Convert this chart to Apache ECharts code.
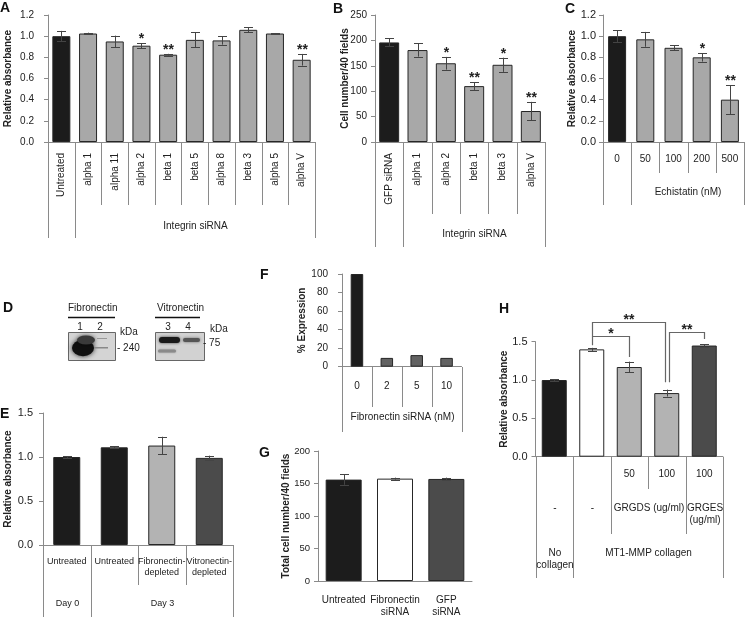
<!DOCTYPE html>
<html><head><meta charset="utf-8">
<script src="https://cdn.jsdelivr.net/npm/echarts/dist/echarts.min.js"></script>
<style>html,body{margin:0;padding:0;background:#fff}#c{width:745px;height:617px}</style>
</head><body><div id="c"></div><script>
// ---------------- DATA ----------------
const A_categories = ['Untreated','alpha 1','alpha 11','alpha 2','beta 1','beta 5','alpha 8','beta 3','alpha 5','alpha V'];
const A_values = [1.00, 1.025, 0.95, 0.91, 0.825, 0.965, 0.96, 1.06, 1.025, 0.777];
const A_errors = [0.05, 0.008, 0.055, 0.025, 0.008, 0.07, 0.04, 0.025, 0.005, 0.055];
const A_marks  = ['','','','*','**','','','','','**'];
const A_groups = [['', 0, 1], ['Integrin siRNA', 1, 10]];
const A_ticks  = [0, 0.2, 0.4, 0.6, 0.8, 1.0, 1.2];

const B_categories = ['GFP siRNA','alpha 1','alpha 2','beta 1','beta 3','alpha V'];
const B_values = [196, 181, 155, 110, 152, 61];
const B_errors = [8, 13, 12.5, 7.5, 14, 18];
const B_marks  = ['','','*','**','*','**'];
const B_groups = [['', 0, 1], ['Integrin siRNA', 1, 6]];
const B_ticks  = [0, 50, 100, 150, 200, 250];

const C_categories = ['0','50','100','200','500'];
const C_values = [1.00, 0.97, 0.89, 0.80, 0.40];
const C_errors = [0.055, 0.07, 0.022, 0.04, 0.135];
const C_marks  = ['','','','*','**'];
const C_groups = [['', 0, 1], ['Echistatin (nM)', 1, 5]];
const C_ticks  = [0, 0.2, 0.4, 0.6, 0.8, 1.0, 1.2];

const E_categories = ['Untreated','Untreated','Fibronectin-\ndepleted','Vitronectin-\ndepleted'];
const E_values = [1.00, 1.11, 1.13, 0.99];
const E_errors = [0.01, 0.01, 0.10, 0.025];
const E_groups = [['Day 0', 0, 1], ['Day 3', 1, 4]];
const E_ticks  = [0, 0.5, 1.0, 1.5];

const F_categories = ['0','2','5','10'];
const F_values = [100, 9.5, 12.5, 9.5];
const F_groups = [['Fibronectin siRNA (nM)', 0, 4]];
const F_ticks  = [0, 20, 40, 60, 80, 100];

const G_categories = ['Untreated','Fibronectin\nsiRNA','GFP\nsiRNA'];
const G_values = [156, 157.5, 157];
const G_errors = [8, 1.5, 2];
const G_ticks  = [0, 50, 100, 150, 200];

const H_categories = ['','','50','100','100'];
const H_values = [1.00, 1.40, 1.17, 0.83, 1.45];
const H_errors = [0.012, 0.02, 0.07, 0.045, 0.015];
const H_groups1 = [['-', 0, 1], ['-', 1, 2], ['GRGDS (ug/ml)', 2, 4], ['GRGES\n(ug/ml)', 4, 5]];
const H_groups2 = [['No\ncollagen', 0, 1], ['MT1-MMP collagen', 1, 5]];
const H_ticks  = [0, 0.5, 1.0, 1.5];
const H_sigFrom = [1, 1, 3];
const H_sigTo   = [2, 3, 4];
const H_sigMark = ['*', '**', '**'];

// ---------------- STYLE / LAYOUT ----------------
const FONT = "'Liberation Sans', Arial, Helvetica, sans-serif";
const AX = '#8a8a8a', TXT = '#222', ERR = '#444';
const BLACK = '#1c1c1c', GRAY = '#a8a8a8', LIGHT = '#b3b3b3', DARK = '#4b4b4b', MID = '#626262', WHITE = '#ffffff';
// bracket geometry (value-space heights) for panel H
const SIG_LAYOUT = [
  {top: 1.57, left: 1.455, right: 1.30, dxL: 0, dxR: 0},
  {top: 1.755, left: 1.57, right: 0.97, dxL: 0, dxR: -2},
  {top: 1.63, left: 0.97, right: 1.535, dxL: 2, dxR: 0}
];

const chart = echarts.init(document.getElementById('c'), null, {renderer: 'canvas'});

function grid(l, t, w, h) { return {left: l, top: t, width: w, height: h, containLabel: false, outerBoundsMode: 'none'}; }
function yAx(gi, ticks, dec, name, nameGap, margin, fs) {
  return {type: 'value', gridIndex: gi, min: ticks[0], max: ticks[ticks.length - 1], interval: ticks[1] - ticks[0],
    name: name, nameLocation: 'middle', nameGap: nameGap, nameRotate: 90, nameMoveOverlap: false,
    nameTextStyle: {fontFamily: FONT, fontWeight: 'bold', fontSize: 10, color: TXT},
    axisLine: {show: true, lineStyle: {color: AX, width: 1}},
    axisTick: {show: true, length: 4, inside: false, lineStyle: {color: AX}},
    splitLine: {show: false},
    axisLabel: {margin: margin, fontFamily: FONT, fontSize: fs, color: TXT, formatter: v => v.toFixed(dec)}};
}
function xAx(gi, labels, margin, rotate, fs, lh) {
  return {type: 'category', gridIndex: gi, data: labels.map((_, i) => 'k' + i),
    axisLine: {show: true, lineStyle: {color: AX, width: 1}}, axisTick: {show: false}, splitLine: {show: false},
    axisLabel: {interval: 0, rotate: rotate, margin: margin, hideOverlap: false, fontFamily: FONT, fontSize: fs, color: TXT, lineHeight: lh,
      formatter: (v, i) => labels[i]}};
}
function bars(gi, values, colorFn, bw) {
  return {type: 'bar', xAxisIndex: gi, yAxisIndex: gi, barWidth: bw, silent: true,
    itemStyle: {borderColor: '#262626', borderWidth: 1},
    data: values.map((v, i) => ({value: v, itemStyle: {color: colorFn(i)}}))};
}
function errs(gi, values, errors, marks) {
  return {type: 'custom', xAxisIndex: gi, yAxisIndex: gi, z: 5, clip: false, silent: true,
    data: values.map((v, i) => [i, v, errors[i]]),
    renderItem: function (params, api) {
      const i = api.value(0), v = api.value(1), e = api.value(2);
      const top = api.coord([i, v + e]), bot = api.coord([i, v - e]);
      const x = Math.round(top[0]) + 0.5, w = 4.5;
      const st = {stroke: ERR, lineWidth: 1};
      const ch = [
        {type: 'line', shape: {x1: x, y1: top[1], x2: x, y2: bot[1]}, style: st},
        {type: 'line', shape: {x1: x - w, y1: Math.round(top[1]) + 0.5, x2: x + w, y2: Math.round(top[1]) + 0.5}, style: st},
        {type: 'line', shape: {x1: x - w, y1: Math.round(bot[1]) + 0.5, x2: x + w, y2: Math.round(bot[1]) + 0.5}, style: st}
      ];
      const m = marks && marks[params.dataIndex];
      if (m) ch.push({type: 'text', style: {text: m, x: x, y: top[1] - 4, align: 'center', verticalAlign: 'middle',
        textAlign: 'center', textVerticalAlign: 'middle', font: 'bold 14px ' + FONT, fill: TXT}});
      return {type: 'group', children: ch};
    }};
}
function sigSeries(gi) {
  return {type: 'custom', xAxisIndex: gi, yAxisIndex: gi, z: 6, clip: false, silent: true,
    data: H_sigFrom.map((f, k) => [f, H_sigTo[k], k]),
    renderItem: function (params, api) {
      const k = params.dataIndex, L = SIG_LAYOUT[k];
      const f = api.value(0), t = api.value(1);
      const pL = api.coord([f, L.top]), pR = api.coord([t, L.top]);
      const xl = Math.round(pL[0]) + 0.5 + L.dxL, xr = Math.round(pR[0]) + 0.5 + L.dxR;
      const yt = Math.round(pL[1]) + 0.5;
      const yl = api.coord([f, L.left])[1], yr = api.coord([t, L.right])[1];
      return {type: 'group', children: [
        {type: 'polyline', shape: {points: [[xl, yl], [xl, yt], [xr, yt], [xr, yr]]}, style: {stroke: '#666', lineWidth: 1.2, fill: null}},
        {type: 'text', style: {text: H_sigMark[k], x: (xl + xr) / 2, y: yt - 2, align: 'center', verticalAlign: 'middle',
          textAlign: 'center', textVerticalAlign: 'middle', font: 'bold 14px ' + FONT, fill: TXT}}
      ]};
    }};
}

// grids: 0 A, 1 B, 2 C, 3 E, 4 F, 5 G, 6 H
const option = {
  animation: false,
  backgroundColor: '#fff',
  grid: [
    grid(48, 15, 267, 127),
    grid(375, 15, 170, 127),
    grid(603, 15, 141, 127),
    grid(43, 413, 190, 132),
    grid(342, 274, 119.5, 92.7),
    grid(318, 451, 154, 130),
    grid(535.5, 341.7, 187.5, 115)
  ],
  xAxis: [
    xAx(0, A_categories, 11, 90, 10, 12),
    xAx(1, B_categories, 11, 90, 10, 12),
    xAx(2, C_categories, 11, 0, 10, 12),
    xAx(3, E_categories, 11.5, 0, 9, 11),
    xAx(4, F_categories, 14, 0, 10, 12),
    xAx(5, G_categories, 13, 0, 10, 12),
    xAx(6, H_categories, 12, 0, 10, 12)
  ],
  yAxis: [
    yAx(0, A_ticks, 1, 'Relative absorbance', 35, 14, 10),
    yAx(1, B_ticks, 0, 'Cell number/40 fields', 25, 8, 10),
    yAx(2, C_ticks, 1, 'Relative absorbance', 26, 7, 11),
    yAx(3, E_ticks, 1, 'Relative absorbance', 29.5, 10, 11),
    yAx(4, F_ticks, 0, '% Expression', 34.5, 14, 10),
    yAx(5, G_ticks, 0, 'Total cell number/40 fields', 27, 8, 9.5),
    yAx(6, H_ticks, 1, 'Relative absorbance', 26, 8, 11)
  ],
  series: [
    bars(0, A_values, i => i === 0 ? BLACK : GRAY, 18), errs(0, A_values, A_errors, A_marks),
    bars(1, B_values, i => i === 0 ? BLACK : GRAY, 20), errs(1, B_values, B_errors, B_marks),
    bars(2, C_values, i => i === 0 ? BLACK : GRAY, 18), errs(2, C_values, C_errors, C_marks),
    bars(3, E_values, i => i < 2 ? BLACK : (i === 2 ? LIGHT : DARK), 27), errs(3, E_values, E_errors, null),
    bars(4, F_values, i => i === 0 ? BLACK : MID, 12.5),
    bars(5, G_values, i => [BLACK, WHITE, DARK][i], 36), errs(5, G_values, G_errors, null),
    bars(6, H_values, i => [BLACK, WHITE, LIGHT, LIGHT, DARK][i], 25), errs(6, H_values, H_errors, null),
    sigSeries(6)
  ]
};
chart.setOption(option);

// ---------------- hierarchical axis decoration ----------------
function seg(x1, y1, x2, y2, color, w) {
  return {type: 'line', silent: true, shape: {x1: x1, y1: y1, x2: x2, y2: y2}, style: {stroke: color || AX, lineWidth: w || 1}};
}
function txt(s, x, y, size, opts) {
  opts = opts || {};
  return {type: 'text', silent: true, x: x, y: y, style: {text: s, font: (opts.bold ? 'bold ' : '') + size + 'px ' + FONT,
    fill: opts.fill || TXT, align: opts.align || 'left', verticalAlign: opts.va || 'top',
    textAlign: opts.align || 'left', textVerticalAlign: opts.va || 'top', lineHeight: opts.lh || Math.round(size * 1.2)}};
}
function tree(t) {
  const out = [];
  const c0 = chart.convertToPixel({xAxisIndex: t.ax}, 0);
  const c1 = chart.convertToPixel({xAxisIndex: t.ax}, 1);
  const bw = c1 - c0;
  const y0 = Math.round(chart.convertToPixel({yAxisIndex: t.ax}, 0));
  const bx = b => Math.round(c0 + (b - 0.5) * bw) + 0.5;
  for (let b = 0; b <= t.n; b++) out.push(seg(bx(b), y0, bx(b), y0 + t.leaf));
  t.levels.forEach(L => {
    L.groups.forEach(g => {
      out.push(seg(bx(g[1]), y0, bx(g[1]), y0 + L.len));
      out.push(seg(bx(g[2]), y0, bx(g[2]), y0 + L.len));
      if (g[0]) out.push(txt(g[0], (bx(g[1]) + bx(g[2])) / 2, y0 + L.top, L.size, {align: 'center', lh: L.lh}));
    });
  });
  return out;
}
let G = [];
G = G.concat(tree({ax: 0, n: A_categories.length, leaf: 63, levels: [{groups: A_groups, len: 96, top: 78, size: 10, lh: 12}]}));
G = G.concat(tree({ax: 1, n: B_categories.length, leaf: 72, levels: [{groups: B_groups, len: 105, top: 86, size: 10, lh: 12}]}));
G = G.concat(tree({ax: 2, n: C_categories.length, leaf: 31, levels: [{groups: C_groups, len: 63, top: 44, size: 10, lh: 12}]}));
G = G.concat(tree({ax: 3, n: E_categories.length, leaf: 40, levels: [{groups: E_groups, len: 78, top: 53.5, size: 9, lh: 11}]}));
G = G.concat(tree({ax: 4, n: F_categories.length, leaf: 40, levels: [{groups: F_groups, len: 65, top: 44.6, size: 10, lh: 12}]}));
G = G.concat(tree({ax: 6, n: H_categories.length, leaf: 32, levels: [
  {groups: H_groups1, len: 77, top: 45.3, size: 10, lh: 12},
  {groups: H_groups2, len: 121, top: 90.3, size: 10, lh: 12}]}));

// panel letters
[['A', 0, 1], ['B', 333, 2], ['C', 565, 2], ['D', 3, 301], ['E', 0, 407], ['F', 260, 268], ['G', 259, 446], ['H', 499, 302]]
  .forEach(p => G.push(txt(p[0], p[1], p[2], 14, {bold: true, fill: '#111', lh: 14})));

// panel D: western blots
G.push(txt('Fibronectin', 68, 302, 10));
G.push(seg(68, 317.5, 115, 317.5, '#111', 1.5));
G.push(txt('1', 80, 321, 10, {align: 'center'}));
G.push(txt('2', 100, 321, 10, {align: 'center'}));
G.push(txt('kDa', 120, 326, 10));
G.push({type: 'rect', silent: true, shape: {x: 68.5, y: 332.5, width: 47, height: 28}, style: {fill: '#d4d4d4', stroke: '#666', lineWidth: 1}});
G.push({type: 'circle', silent: true, x: 83, y: 348, scaleX: 1, scaleY: 0.75, shape: {cx: 0, cy: 0, r: 11},
  style: {fill: '#101010', shadowBlur: 5, shadowColor: 'rgba(0,0,0,0.8)'}});
G.push({type: 'circle', silent: true, x: 86, y: 340, scaleX: 1, scaleY: 0.5, shape: {cx: 0, cy: 0, r: 9},
  style: {fill: '#3a3a3a', shadowBlur: 4, shadowColor: 'rgba(0,0,0,0.6)'}});
G.push({type: 'rect', silent: true, shape: {x: 94, y: 347, width: 14, height: 1.5}, style: {fill: '#888'}});
G.push({type: 'rect', silent: true, shape: {x: 97, y: 338, width: 10, height: 1}, style: {fill: '#999'}});
G.push(txt('- 240', 117, 342, 10));

G.push(txt('Vitronectin', 157, 302, 10));
G.push(seg(155, 317.5, 200, 317.5, '#111', 1.5));
G.push(txt('3', 168, 321, 10, {align: 'center'}));
G.push(txt('4', 188, 321, 10, {align: 'center'}));
G.push(txt('kDa', 210, 323, 10));
G.push({type: 'rect', silent: true, shape: {x: 155.5, y: 332.5, width: 49, height: 28}, style: {fill: '#d2d2d2', stroke: '#666', lineWidth: 1}});
G.push({type: 'rect', silent: true, shape: {x: 159, y: 337, width: 21, height: 6, r: 3}, style: {fill: '#1a1a1a', shadowBlur: 3, shadowColor: 'rgba(0,0,0,0.7)'}});
G.push({type: 'rect', silent: true, shape: {x: 183, y: 338, width: 17, height: 4, r: 2}, style: {fill: '#555', shadowBlur: 3, shadowColor: 'rgba(0,0,0,0.5)'}});
G.push({type: 'rect', silent: true, shape: {x: 158, y: 349.5, width: 18, height: 3, r: 1.5}, style: {fill: '#8a8a8a', shadowBlur: 2, shadowColor: 'rgba(0,0,0,0.3)'}});
G.push(txt('- 75', 203, 337, 10));

chart.setOption({graphic: {elements: G}});
</script></body></html>
